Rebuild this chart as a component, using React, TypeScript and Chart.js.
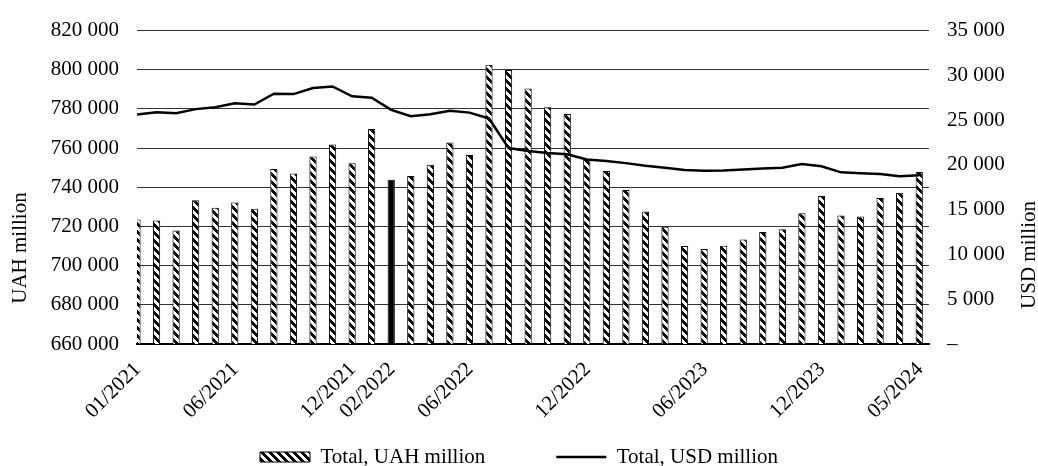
import React, { useEffect, useRef } from 'react';
import { Chart, registerables } from 'chart.js';

Chart.register(...registerables);

// Monthly totals, 01/2021 – 05/2024
const months = [
  '01/2021', '02/2021', '03/2021', '04/2021', '05/2021', '06/2021', '07/2021', '08/2021', '09/2021', '10/2021', '11/2021', '12/2021',
  '01/2022', '02/2022', '03/2022', '04/2022', '05/2022', '06/2022', '07/2022', '08/2022', '09/2022', '10/2022', '11/2022', '12/2022',
  '01/2023', '02/2023', '03/2023', '04/2023', '05/2023', '06/2023', '07/2023', '08/2023', '09/2023', '10/2023', '11/2023', '12/2023',
  '01/2024', '02/2024', '03/2024', '04/2024', '05/2024',
];

const uahTotal = [
  723500, 723000, 717900, 733400, 729500, 732200, 729000, 749300, 747000, 755700, 761800, 752300,
  769800, 743800, 745800, 751500, 762900, 756500, 802600, 799900, 790500, 780900, 777400, 754000,
  748300, 738600, 727700, 719800, 710000, 708500, 710200, 713400, 717200, 718600, 726800, 735600,
  725600, 725100, 734600, 737200, 747800,
];

const usdTotal = [
  25630, 25890, 25780, 26230, 26450, 26890, 26740, 27950, 27910, 28580, 28760, 27660,
  27510, 26150, 25440, 25660, 26060, 25840, 25190, 21880, 21560, 21320, 21190, 20600,
  20430, 20200, 19900, 19680, 19420, 19350, 19390, 19500, 19610, 19680, 20090, 19840,
  19170, 19060, 18990, 18730, 18840,
];

const shownMonths = ['01/2021', '06/2021', '12/2021', '02/2022', '06/2022', '12/2022', '06/2023', '12/2023', '05/2024'];
const highlightMonth = '02/2022';

const uahTicks = [660000, 680000, 700000, 720000, 740000, 760000, 780000, 800000, 820000];
const usdTicks = [0, 5000, 10000, 15000, 20000, 25000, 30000, 35000];

const uahLabel = 'Total, UAH million';
const usdLabel = 'Total, USD million';
const uahAxisTitle = 'UAH million';
const usdAxisTitle = 'USD million';

const FONT = '"Liberation Serif", "Times New Roman", serif';

const groupDigits = (v: number) => (v === 0 ? '–' : String(v).replace(/\B(?=(\d{3})+(?!\d))/g, ' '));

// 8x8 downward-diagonal hatch tile
function makeHatch(ctx: CanvasRenderingContext2D): CanvasPattern | string {
  const tile = document.createElement('canvas');
  tile.width = 8;
  tile.height = 8;
  const t = tile.getContext('2d');
  if (!t) return '#777';
  const img = t.createImageData(8, 8);
  for (let y = 0; y < 8; y++) {
    for (let x = 0; x < 8; x++) {
      const dark = (x - y + 16) % 8 < 4;
      const i = (y * 8 + x) * 4;
      const c = dark ? 0 : 255;
      img.data[i] = c;
      img.data[i + 1] = c;
      img.data[i + 2] = c;
      img.data[i + 3] = 255;
    }
  }
  t.putImageData(img, 0, 0);
  return ctx.createPattern(tile, 'repeat') || '#777';
}

// Vertical axis titles, both reading bottom-to-top
const axisTitlesPlugin = {
  id: 'axisTitles',
  afterDraw(chart: any, _args: any, opts: any) {
    const { ctx } = chart;
    ctx.save();
    ctx.font = `21px ${FONT}`;
    ctx.fillStyle = '#000';
    ctx.textAlign = 'center';
    ctx.textBaseline = 'middle';
    for (const t of opts.items || []) {
      ctx.save();
      ctx.translate(t.x, t.y);
      ctx.rotate(-Math.PI / 2);
      ctx.fillText(t.text, 0, 0);
      ctx.restore();
    }
    ctx.restore();
  },
};

export default function App() {
  const ref = useRef<HTMLCanvasElement>(null);

  useEffect(() => {
    const canvas = ref.current;
    if (!canvas) return;
    const ctx = canvas.getContext('2d');
    if (!ctx) return;
    const hatch = makeHatch(ctx);

    Chart.defaults.font.family = FONT;
    Chart.defaults.font.size = 21;
    Chart.defaults.color = '#000';

    const chart = new Chart(canvas, {
      type: 'bar',
      data: {
        datasets: [
          {
            type: 'bar',
            label: uahLabel,
            data: uahTotal.map((v, i) => ({ x: i, y: v })),
            backgroundColor: months.map((m) => (m === highlightMonth ? '#000' : hatch)),
            borderColor: '#000',
            borderWidth: 1,
            barPercentage: 0.37,
            categoryPercentage: 1,
            yAxisID: 'y',
            order: 1,
          } as any,
          {
            type: 'line',
            label: usdLabel,
            data: usdTotal.map((v, i) => ({ x: i, y: v })),
            borderColor: '#000',
            borderWidth: 2.5,
            pointRadius: 0,
            tension: 0,
            fill: false,
            yAxisID: 'y2',
            order: 0,
          } as any,
        ],
      },
      plugins: [axisTitlesPlugin],
      options: {
        animation: false,
        responsive: false,
        devicePixelRatio: 1,
        events: [],
        layout: { padding: { top: 27, left: 0, right: 0, bottom: -11.5 } },
        scales: {
          x: {
            type: 'linear',
            min: 0,
            max: 40.5,
            offset: false,
            grid: { display: false },
            border: { display: true, color: '#000', width: 2 },
            afterBuildTicks: (scale: any) => {
              scale.ticks = shownMonths.map((m) => ({ value: months.indexOf(m) }));
            },
            afterFit: (scale: any) => {
              scale.height = 31.5;
            },
            ticks: {
              autoSkip: false,
              minRotation: 45,
              maxRotation: 45,
              // mirrored so the rotated labels are not clipped to the short axis box
              mirror: true,
              padding: -31,
              labelOffset: 18.5,
              font: { size: 21, family: FONT },
              color: '#000',
              callback: (value: any) => months[Number(value)] ?? '',
            },
          },
          y: {
            type: 'linear',
            position: 'left',
            min: uahTicks[0],
            max: uahTicks[uahTicks.length - 1],
            afterBuildTicks: (scale: any) => {
              scale.ticks = uahTicks.map((v) => ({ value: v }));
            },
            afterFit: (scale: any) => {
              scale.width = 137;
            },
            grid: { color: '#333', lineWidth: 1, drawTicks: false },
            border: { display: false },
            ticks: {
              padding: 18,
              font: { size: 21, family: FONT },
              color: '#000',
              callback: (value: any) => groupDigits(Number(value)),
            },
          },
          y2: {
            type: 'linear',
            position: 'right',
            min: usdTicks[0],
            max: usdTicks[usdTicks.length - 1],
            afterBuildTicks: (scale: any) => {
              scale.ticks = usdTicks.map((v) => ({ value: v }));
            },
            afterFit: (scale: any) => {
              scale.width = 109;
            },
            grid: { display: false, drawTicks: false },
            border: { display: false },
            ticks: {
              padding: 18,
              font: { size: 21, family: FONT },
              color: '#000',
              callback: (value: any) => groupDigits(Number(value)),
            },
          },
        },
        plugins: {
          tooltip: { enabled: false },
          legend: {
            display: true,
            position: 'bottom',
            labels: {
              usePointStyle: true,
              pointStyleWidth: 50,
              boxWidth: 50,
              boxHeight: 10,
              padding: 71,
              color: '#000',
              font: { size: 21, family: FONT },
              generateLabels: () => [
                {
                  text: uahLabel,
                  fillStyle: hatch,
                  strokeStyle: '#000',
                  lineWidth: 1,
                  pointStyle: 'rect',
                  hidden: false,
                  datasetIndex: 0,
                } as any,
                {
                  text: usdLabel,
                  fillStyle: 'rgba(0,0,0,0)',
                  strokeStyle: '#000',
                  lineWidth: 2.5,
                  pointStyle: 'line',
                  hidden: false,
                  datasetIndex: 1,
                } as any,
              ],
            },
          },
          axisTitles: {
            items: [
              { text: uahAxisTitle, x: 20, y: 248 },
              { text: usdAxisTitle, x: 1029, y: 255 },
            ],
          },
        } as any,
      },
    });

    return () => chart.destroy();
  }, []);

  return (
    <div style={{ position: 'absolute', left: 0, top: 0, width: 1038, height: 466, background: '#fff' }}>
      <canvas ref={ref} width={1038} height={466} style={{ display: 'block' }} />
    </div>
  );
}
